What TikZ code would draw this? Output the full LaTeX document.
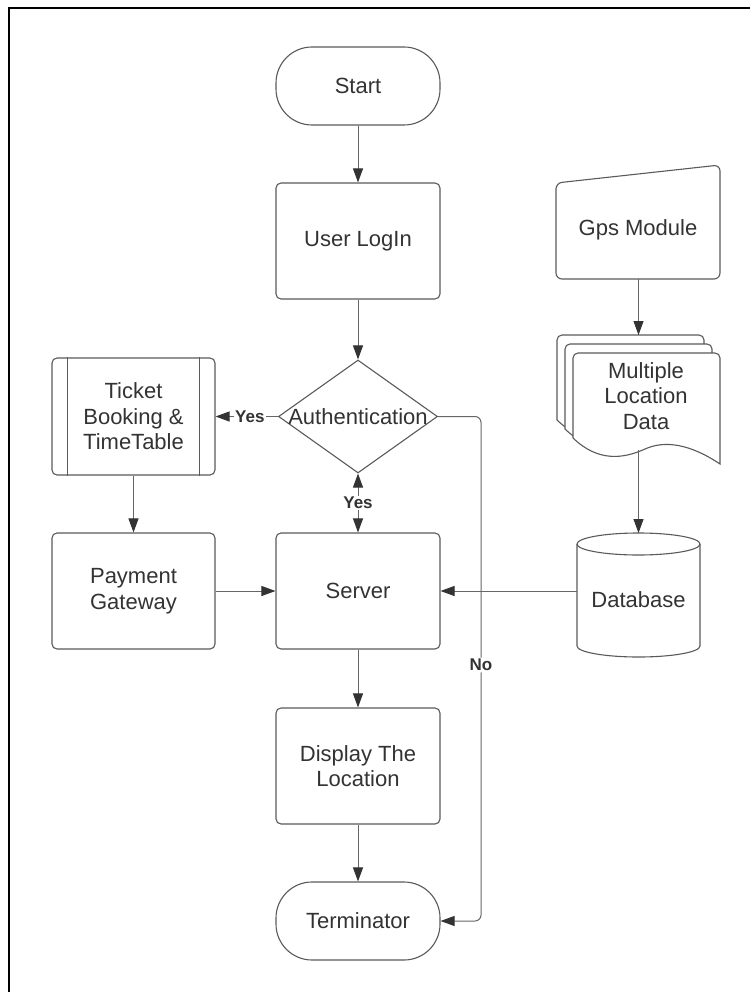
\documentclass[tikz,border=0pt]{standalone}
\usepackage{fontspec}
\setmainfont{Liberation Sans}
\usetikzlibrary{arrows.meta,shapes.geometric,calc}
\definecolor{ink}{HTML}{333333}
\definecolor{edge}{HTML}{5A5A5A}
\definecolor{wire}{HTML}{666666}

% one page of the stacked document symbol, shifted by (#1,#2)
\newcommand\docpage[2]{%
  \begin{scope}[shift={(#1,#2)}]
    \draw[edge, line width=1.1pt, fill=white]
      (573,438) [rounded corners=5pt] -- (573,353) -- (720,353) -- (720,400)
      [sharp corners] -- (720,464)
      .. controls (690,444) and (665,440) .. (645,449)
      .. controls (623,459) and (598,462) .. (573,438) -- cycle;
  \end{scope}}

\begin{document}
\begin{tikzpicture}[x=1pt,y=-1pt,
  txt/.style={font=\fontsize{22}{25.5}\selectfont, text=ink, align=center},
  box/.style={draw=edge, line width=1.1pt, fill=white, rounded corners=5pt,
    minimum width=164pt, minimum height=116pt, inner sep=0pt, txt},
  term/.style={box, minimum height=78pt, rounded corners=36pt},
  flow/.style={draw=wire, line width=1pt,
    -{Triangle[length=14pt,width=10pt,color=ink]}},
  flowboth/.style={draw=wire, line width=1pt,
    {Triangle[length=14pt,width=10pt,color=ink]}-{Triangle[length=14pt,width=10pt,color=ink]}},
  lbl/.style={font=\fontsize{17}{19}\selectfont\bfseries, text=ink, fill=white, inner sep=1.5pt},
  outline/.style={draw=edge, line width=1.1pt, fill=white}
]
\useasboundingbox (0,0) rectangle (750,992);

% page frame (top and left edges)
\draw[line width=2.5pt, black] (9,992) -- (9,8) -- (750,8);

% main column
\node[term] (start) at (358,86) {Start};
\node[box] (login) at (358,241) {User LogIn};
\node[diamond, outline, minimum width=159pt, minimum height=113pt, inner sep=0pt] (auth) at (358,416.5) {};
\node[txt] (authtxt) at (auth.center) {Authentication};
\node[box] (server) at (358,591) {Server};
\node[box] (disp) at (358,766) {Display The\\Location};
\node[term] (termin) at (358,921) {Terminator};

% left column
\node[box, minimum width=163pt, minimum height=117pt] (ticket) at (133.5,416.5) {Ticket\\Booking \&\\TimeTable};
\draw[edge, line width=1.1pt] ($(ticket.north west)+(16,0)$) -- ($(ticket.south west)+(16,0)$);
\draw[edge, line width=1.1pt] ($(ticket.north east)+(-16,0)$) -- ($(ticket.south east)+(-16,0)$);
\node[box, minimum width=163pt] (pay) at (133.5,591) {Payment\\Gateway};

% right column: manual input
\draw[outline, rounded corners=6pt] (556,183) -- (720,165) -- (720,279) -- (556,279) -- cycle;
\node[txt] (gps) at (638,230) {Gps Module};
\coordinate (gpsb) at (638.5,279);

% stacked documents
\docpage{-16}{-18}
\docpage{-8}{-9}
\docpage{0}{0}
\node[txt] (mld) at (646,396) {Multiple\\Location\\Data};
\coordinate (docin) at (638.5,335);
\coordinate (docout) at (638.5,450);

% database cylinder
\draw[outline] (577,544) -- (577,646)
  arc[start angle=180, end angle=360, x radius=61.5pt, y radius=11pt] -- (700,544);
\draw[outline] (638.5,544) ellipse[x radius=61.5pt, y radius=11pt];
\node[txt] (db) at (638.5,600) {Database};
\coordinate (dbtop) at (638.5,533);
\coordinate (dbw) at (577,591);

% connectors
\draw[flow] (start) -- (login);
\draw[flow] (login) -- (auth);
\draw[flow] (auth.west) -- node[lbl, pos=0.45] {Yes} (ticket.east);
\draw[flowboth] (server.north) -- node[lbl] {Yes} (auth.south);
\draw[flow, rounded corners=6pt] (auth.east) -- (481,416.5)
  -- node[lbl, pos=0.4926] {No} (481,921) -- (termin.east);
\draw[flow] (ticket) -- (pay);
\draw[flow] (pay) -- (server);
\draw[flow] (dbw) -- (server.east);
\draw[flow] (server) -- (disp);
\draw[flow] (disp) -- (termin);
\draw[flow] (gpsb) -- (docin);
\draw[flow] (docout) -- (dbtop);
\end{tikzpicture}
\end{document}
